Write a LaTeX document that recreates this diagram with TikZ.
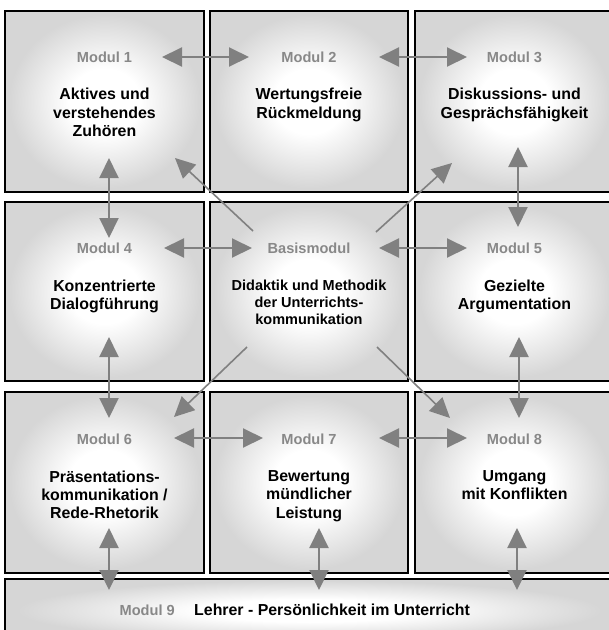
\documentclass[tikz,border=0pt]{standalone}
\usepackage{fontspec}
\setmainfont{Liberation Sans}
\usetikzlibrary{arrows.meta}
\definecolor{boxgray}{RGB}{214,214,214}
\definecolor{arrowgray}{RGB}{128,128,128}
\definecolor{labelgray}{RGB}{136,136,136}
\pgfdeclareradialshading{boxglow}{\pgfpoint{0bp}{0bp}}{color(0bp)=(white); color(9bp)=(white); color(24bp)=(boxgray); color(50bp)=(boxgray)}
\begin{document}
\begin{tikzpicture}[x=1pt, y=-1pt,
    box/.style={draw=black, line width=2pt, shading=boxglow},
    modlabel/.style={font=\bfseries\fontsize{14.6}{17}\selectfont, text=labelgray, inner sep=0pt, anchor=base},
    modtext/.style={font=\bfseries\fontsize{15.9}{18.3}\selectfont, align=center, inner sep=0pt, anchor=north},
    link/.style={draw=arrowgray, line width=2pt, {Triangle[length=20pt,width=19pt]}-{Triangle[length=20pt,width=19pt]}},
    ray/.style={draw=arrowgray, line width=1.6pt, -{Triangle[length=20pt,width=19pt]}}]
        \useasboundingbox (0,0) rectangle (609,630);
        \fill[white] (0,0) rectangle (609,630);
        \clip (0,0) rectangle (609,630);
        % boxes
        \draw[box] (5,11) rectangle (204,192);
        \draw[box] (210,11) rectangle (408,192);
        \draw[box] (415,11) rectangle (614,192);
        \draw[box] (5,202) rectangle (204,381);
        \draw[box] (210,202) rectangle (408,381);
        \draw[box] (415,202) rectangle (614,381);
        \draw[box] (5,392) rectangle (204,573);
        \draw[box] (210,392) rectangle (408,573);
        \draw[box] (415,392) rectangle (614,573);
        \draw[box] (5,579) rectangle (614,642);
        % labels
        \node[modlabel] (l1) at (104.5,62.2) {Modul 1};
        \node[modlabel] (l2) at (309,62.2) {Modul 2};
        \node[modlabel] (l3) at (514.5,62.2) {Modul 3};
        \node[modlabel] (l4) at (104.5,253.2) {Modul 4};
        \node[modlabel] (lb) at (309,253.2) {Basismodul};
        \node[modlabel] (l5) at (514.5,253.2) {Modul 5};
        \node[modlabel] (l6) at (104.5,444) {Modul 6};
        \node[modlabel] (l7) at (309,444) {Modul 7};
        \node[modlabel] (l8) at (514.5,444) {Modul 8};
        \node[modlabel, anchor=base east] (l9) at (175,615.5) {Modul 9};
        % texts
        \node[modtext] (t1) at (104.5,88) {Aktives und\\verstehendes\\Zuhören};
        \node[modtext] (t2) at (309,88) {Wertungsfreie\\Rückmeldung};
        \node[modtext] (t3) at (514.5,88) {Diskussions- und\\Gesprächsfähigkeit};
        \node[modtext] (t4) at (104.5,279.5) {Konzentrierte\\Dialogführung};
        \node[modtext, font=\bfseries\fontsize{14.5}{17}\selectfont] (tb) at (309,279.5) {Didaktik und Methodik\\der Unterrichts-\\kommunikation};
        \node[modtext] (t5) at (514.5,279.5) {Gezielte\\Argumentation};
        \node[modtext] (t6) at (104.5,470.3) {Präsentations-\\kommunikation /\\Rede-Rhetorik};
        \node[modtext] (t7) at (309,470.3) {Bewertung\\mündlicher\\Leistung};
        \node[modtext] (t8) at (514.5,470.3) {Umgang\\mit Konflikten};
        \node[modtext, anchor=base west] (t9) at (194,615.5) {Lehrer - Persönlichkeit im Unterricht};
        % arrow ends
        \coordinate (h1r) at (162,57);
        \coordinate (h2l) at (249,57);
        \coordinate (h2r) at (379,57);
        \coordinate (h3l) at (467,57);
        \coordinate (h4r) at (164,248);
        \coordinate (hbl) at (252,248);
        \coordinate (hbr) at (379,248);
        \coordinate (h5l) at (467,248);
        \coordinate (h6r) at (174,438);
        \coordinate (h7l) at (263,438);
        \coordinate (h7r) at (379,438);
        \coordinate (h8l) at (467,438);
        \coordinate (v1) at (109,158);
        \coordinate (v4t) at (109,238);
        \coordinate (v4b) at (109,337);
        \coordinate (v6t) at (109,418);
        \coordinate (v3) at (518,147);
        \coordinate (v5t) at (518,227);
        \coordinate (v5b) at (519,337);
        \coordinate (v8t) at (519,418);
        \coordinate (v6b) at (109,528);
        \coordinate (v9a) at (109,590);
        \coordinate (v7b) at (319,528);
        \coordinate (v9b) at (319,590);
        \coordinate (v8b) at (517,528);
        \coordinate (v9c) at (517,590);
        \coordinate (d1) at (175,158);
        \coordinate (d3) at (452,163);
        \coordinate (d6) at (174,417);
        \coordinate (d8) at (450,418);
        \coordinate (b1) at (253,231);
        \coordinate (b3) at (376,232);
        \coordinate (b6) at (247,347);
        \coordinate (b8) at (377,347);
        % connections
        \draw[link] (h1r)--(h2l);
        \draw[link] (h2r)--(h3l);
        \draw[link] (h4r)--(hbl);
        \draw[link] (hbr)--(h5l);
        \draw[link] (h6r)--(h7l);
        \draw[link] (h7r)--(h8l);
        \draw[link] (v1)--(v4t);
        \draw[link] (v4b)--(v6t);
        \draw[link] (v3)--(v5t);
        \draw[link] (v5b)--(v8t);
        \draw[link] (v6b)--(v9a);
        \draw[link] (v7b)--(v9b);
        \draw[link] (v8b)--(v9c);
        \draw[ray] (b1)--(d1);
        \draw[ray] (b3)--(d3);
        \draw[ray] (b6)--(d6);
        \draw[ray] (b8)--(d8);
\end{tikzpicture}
\end{document}
